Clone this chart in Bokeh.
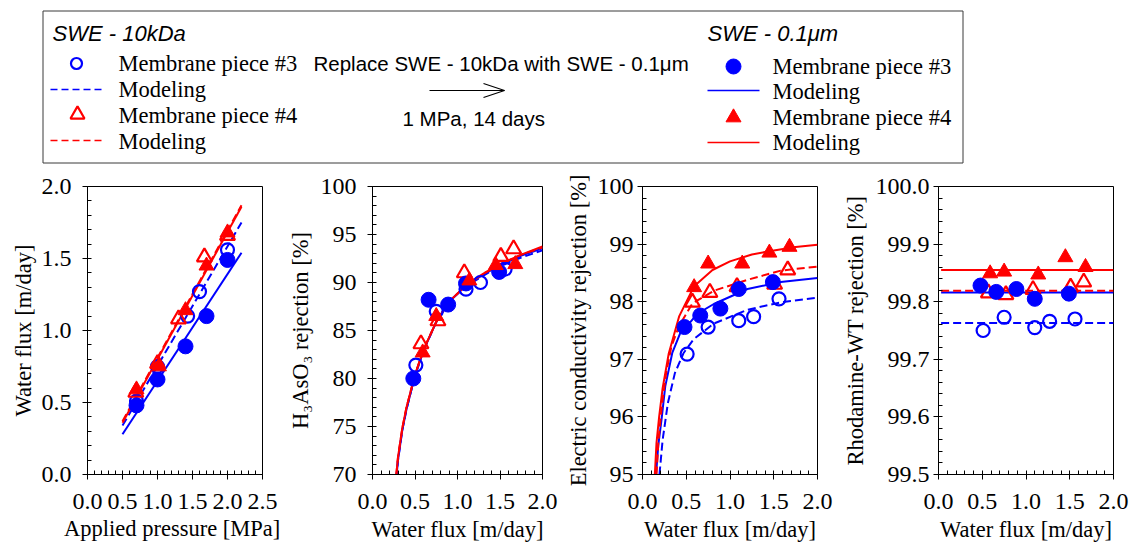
from bokeh.plotting import figure
from bokeh.layouts import column, row
from bokeh.models import Range1d, FixedTicker, NumeralTickFormatter, Title
from bokeh.embed import file_html
from bokeh.resources import INLINE
from bokeh.core.properties import value

# ---------------- data ----------------
# oc = SWE-10kDa piece #3 (open circle), fc = SWE-0.1um piece #3 (filled circle)
# ot = SWE-10kDa piece #4 (open triangle), ft = SWE-0.1um piece #4 (filled triangle)
P_oc = [0.70, 1.00, 1.43, 1.60, 2.00]
P_fc = [0.70, 1.00, 1.40, 1.70, 2.00]
P_ot = [0.69, 1.00, 1.30, 1.67, 2.00]
P_ft = [0.70, 1.02, 1.40, 1.70, 2.00]

J_oc = [0.51, 0.75, 1.10, 1.27, 1.56]
J_fc = [0.48, 0.66, 0.89, 1.10, 1.49]
J_ot = [0.57, 0.77, 1.08, 1.51, 1.66]
J_ft = [0.59, 0.75, 1.14, 1.45, 1.68]

# flux model lines (panel 1)
P_mod = [0.5, 2.2]
Jm_oc = [0.34, 1.75]
Jm_fc = [0.28, 1.54]
Jm_ot = [0.37, 1.87]
Jm_ft = [0.36, 1.86]

# H3AsO3 rejection (panel 2)
As_oc = [81.4, 87.0, 89.3, 90.0, 91.4]
As_fc = [80.0, 88.2, 87.7, 89.9, 91.1]
As_ot = [83.6, 86.0, 91.0, 92.7, 93.5]
As_ft = [82.7, 86.5, 90.2, 91.8, 91.9]
Jm_as = [0.28, 0.30, 0.35, 0.40, 0.50, 0.60, 0.75, 0.90, 1.10, 1.30, 1.50, 1.75, 2.00]
Asm_ft = [70.0, 71.8, 74.8, 77.0, 80.4, 83.0, 85.9, 88.0, 89.7, 90.9, 91.9, 92.9, 93.75]
Asm_ot = [70.0, 71.8, 74.8, 77.0, 80.4, 83.0, 85.9, 88.0, 89.7, 90.9, 91.9, 92.9, 93.65]
Asm_fc = [69.6, 71.5, 74.6, 76.8, 80.3, 82.9, 85.9, 88.0, 89.7, 90.8, 91.8, 92.8, 93.55]
Asm_oc = [69.6, 71.5, 74.6, 76.8, 80.3, 82.9, 85.9, 88.0, 89.6, 90.7, 91.7, 92.6, 93.35]

# Electric conductivity rejection (panel 3)
EC_oc = [97.09, 97.56, 97.67, 97.74, 98.05]
EC_fc = [97.56, 97.76, 97.88, 98.22, 98.34]
EC_ot = [97.99, 98.16, 98.26, 98.30, 98.55]
EC_ft = [98.25, 98.66, 98.66, 98.85, 98.95]
Jm_ec_ft = [0.141, 0.16, 0.19, 0.23, 0.30, 0.42, 0.59, 0.80, 1.00, 1.25, 1.50, 1.75, 2.00]
ECm_ft = [95.0, 95.55, 96.0, 96.5, 97.1, 97.75, 98.27, 98.55, 98.70, 98.82, 98.89, 98.95, 98.99]
Jm_ec_ot = [0.16, 0.183, 0.22, 0.27, 0.33, 0.415, 0.57, 0.815, 1.20, 1.58, 2.00]
ECm_ot = [95.0, 95.6, 96.18, 96.76, 97.22, 97.57, 97.97, 98.19, 98.38, 98.54, 98.61]
Jm_ec_fc = [0.155, 0.18, 0.217, 0.26, 0.34, 0.43, 0.49, 0.625, 0.815, 1.20, 1.58, 2.00]
ECm_fc = [95.0, 95.5, 95.95, 96.53, 97.11, 97.45, 97.54, 97.79, 97.96, 98.22, 98.34, 98.41]
Jm_ec_oc = [0.194, 0.23, 0.29, 0.37, 0.47, 0.585, 0.815, 1.20, 1.58, 2.00]
ECm_oc = [95.0, 95.6, 96.24, 96.76, 97.11, 97.35, 97.62, 97.86, 97.99, 98.07]

# Rhodamine-WT rejection (panel 4)
Rh_oc = [99.750, 99.773, 99.755, 99.766, 99.770]
Rh_fc = [99.828, 99.817, 99.822, 99.805, 99.814]
Rh_ot = [99.815, 99.812, 99.821, 99.825, 99.834]
Rh_ft = [99.849, 99.852, 99.847, 99.877, 99.860]
Jm_rh = [0.03, 2.0]
Rhm_oc = [99.763, 99.763]
Rhm_fc = [99.816, 99.816]
Rhm_ot = [99.819, 99.819]
Rhm_ft = [99.855, 99.855]

# texts
leg_titles = ["SWE - 10kDa", "SWE - 0.1\u03bcm"]
leg_labels = ["Membrane piece #3", "Modeling", "Membrane piece #4", "Modeling"]
note_lines = ["Replace SWE - 10kDa with SWE - 0.1\u03bcm", "1 MPa, 14 days"]
x_titles = ["Applied pressure  [MPa]", "Water flux [m/day]", "Water flux [m/day]", "Water flux [m/day]"]
y_titles = ["Water flux [m/day]", "H\u2083AsO\u2083 rejection [%]",
            "Electric conductivity rejection [%]", "Rhodamine-WT rejection [%]"]

# ---------------- style ----------------
SERIF = "'Liberation Serif', Tinos, 'Times New Roman', 'DejaVu Serif', serif"
SANS = "'Liberation Sans', Arimo, Arial, sans-serif"
BLUE = "#0000FF"
RED = "#FF0000"
FS = "24px"
FS_T = "22.5px"
LW = 2
DASH = "8 4"

TOTAL_W = 1129
LEG_H = 172
SUB_H = 383
TOP = 14


def frange(a, b, step):
    n = int(round((b - a) / step))
    return [round(a + i * step, 6) for i in range(n + 1)]


def panel(width, left, right, xr, yr, xmaj, xmin, ymaj, ymin, xfmt, yfmt,
          xtitle, ytitle, ylab_standoff, ytitle_standoff, xtitle_standoff):
    p = figure(width=width, height=SUB_H, x_range=Range1d(*xr), y_range=Range1d(*yr),
               output_backend="svg", toolbar_location=None,
               min_border_left=left, min_border_right=right,
               min_border_top=TOP, min_border_bottom=SUB_H - TOP - 288,
               y_axis_label=ytitle)
    p.xgrid.visible = False
    p.ygrid.visible = False
    p.outline_line_color = "black"
    p.outline_line_width = 1
    p.outline_line_alpha = 1.0
    p.background_fill_color = "white"
    p.border_fill_color = "white"
    for ax in (p.xaxis[0], p.yaxis[0]):
        ax.major_label_text_font = SERIF
        ax.major_label_text_font_size = FS
        ax.major_label_text_color = "black"
        ax.axis_label_text_font = SERIF
        ax.axis_label_text_font_size = FS_T
        ax.axis_label_text_font_style = "normal"
        ax.axis_label_text_color = "black"
        ax.major_tick_in = 0
        ax.major_tick_out = 5
        ax.minor_tick_in = 4
        ax.minor_tick_out = 0
        ax.axis_line_color = "black"
        ax.major_tick_line_color = "black"
        ax.minor_tick_line_color = "black"
    p.xaxis[0].ticker = FixedTicker(ticks=xmaj, minor_ticks=xmin)
    p.yaxis[0].ticker = FixedTicker(ticks=ymaj, minor_ticks=ymin)
    p.xaxis[0].formatter = NumeralTickFormatter(format=xfmt)
    p.yaxis[0].formatter = NumeralTickFormatter(format=yfmt)
    p.xaxis[0].major_label_standoff = 14
    p.yaxis[0].major_label_standoff = int(ylab_standoff)
    p.yaxis[0].axis_label_standoff = int(ytitle_standoff)
    # x-axis title as a below-panel title (keeps the bottom border compact)
    p.add_layout(Title(text=xtitle, align="center", text_font=SERIF, text_font_size=FS_T,
                       text_font_style="normal", text_color="black",
                       standoff=int(xtitle_standoff)), "below")
    return p


def draw_points(p, oc, fc, ot, ft):
    p.scatter(oc[0], oc[1], marker="circle", size=13, fill_color=None,
              line_color=BLUE, line_width=2.2)
    p.scatter(ot[0], ot[1], marker="triangle", size=15, fill_color=None,
              line_color=RED, line_width=2.2)
    p.scatter(fc[0], fc[1], marker="circle", size=15, fill_color=BLUE, line_color=BLUE, line_width=1)
    p.scatter(ft[0], ft[1], marker="triangle", size=15, fill_color=RED, line_color=RED, line_width=1)


def draw_models(p, models):
    for mx, my, col, dash in models:
        p.line(mx, my, line_color=col, line_width=LW, line_dash=dash)


# ---------------- panel 1 ----------------
f1 = panel(284, 87, 22, (0, 2.5), (0, 2.0),
           frange(0, 2.5, 0.5), frange(0, 2.5, 0.1), frange(0, 2, 0.5), frange(0, 2, 0.1),
           "0.0", "0.0", x_titles[0], y_titles[0], 11, 3, 4)
draw_models(f1, [(P_mod, Jm_oc, BLUE, DASH), (P_mod, Jm_fc, BLUE, "solid"),
                 (P_mod, Jm_ot, RED, DASH), (P_mod, Jm_ft, RED, "solid")])
draw_points(f1, (P_oc, J_oc), (P_fc, J_fc), (P_ot, J_ot), (P_ft, J_ft))

# ---------------- panel 2 ----------------
f2 = panel(276, 83, 18, (0, 2.0), (70, 100),
           frange(0, 2, 0.5), frange(0, 2, 0.1), frange(70, 100, 5), frange(70, 100, 1),
           "0.0", "0", x_titles[1], y_titles[1], 11, 5, 6)
draw_models(f2, [(Jm_as, Asm_oc, BLUE, DASH), (Jm_as, Asm_fc, BLUE, "solid"),
                 (Jm_as, Asm_ot, RED, DASH), (Jm_as, Asm_ft, RED, "solid")])
draw_points(f2, (J_oc, As_oc), (J_fc, As_fc), (J_ot, As_ot), (J_ft, As_ft))

# ---------------- panel 3 ----------------
f3 = panel(274, 82, 17, (0, 2.0), (95, 100),
           frange(0, 2, 0.5), frange(0, 2, 0.1), frange(95, 100, 1), frange(95, 100, 0.2),
           "0.0", "0", x_titles[2], y_titles[2], 4, 4, 6)
draw_models(f3, [(Jm_ec_oc, ECm_oc, BLUE, DASH), (Jm_ec_fc, ECm_fc, BLUE, "solid"),
                 (Jm_ec_ot, ECm_ot, RED, DASH), (Jm_ec_ft, ECm_ft, RED, "solid")])
draw_points(f3, (J_oc, EC_oc), (J_fc, EC_fc), (J_ot, EC_ot), (J_ft, EC_ft))

# ---------------- panel 4 ----------------
f4 = panel(295, 104, 16, (0, 2.0), (99.5, 100.0),
           frange(0, 2, 0.5), frange(0, 2, 0.1), frange(99.5, 100, 0.1), frange(99.5, 100, 0.02),
           "0.0", "0.0", x_titles[3], y_titles[3], 4, 5, 7)
draw_models(f4, [(Jm_rh, Rhm_oc, BLUE, DASH), (Jm_rh, Rhm_fc, BLUE, "solid"),
                 (Jm_rh, Rhm_ot, RED, DASH), (Jm_rh, Rhm_ft, RED, "solid")])
draw_points(f4, (J_oc, Rh_oc), (J_fc, Rh_fc), (J_ot, Rh_ot), (J_ft, Rh_ft))

# ---------------- legend block (pixel layout space) ----------------
leg = figure(width=TOTAL_W, height=LEG_H, x_range=Range1d(0, TOTAL_W), y_range=Range1d(LEG_H, 0),
             output_backend="svg", toolbar_location=None, min_border=0,
             x_axis_type=None, y_axis_type=None)
leg.grid.visible = False
leg.outline_line_color = None
leg.background_fill_color = "white"
leg.border_fill_color = "white"

leg.quad(left=[42.5], right=[962.5], top=[10.5], bottom=[162.5], fill_color=None,
         line_color="#3a3a3a", line_width=1)

rows_l = [63, 89, 115, 141]
rows_r = [66, 91, 117, 142]
leg.text(x=[52, 707], y=[33, 33], text=leg_titles, text_font=value(SANS),
         text_font_style="italic", text_font_size="22px", text_baseline="middle",
         text_color="black")
leg.text(x=[118] * 4 + [772] * 4, y=rows_l + rows_r, text=leg_labels + leg_labels,
         text_font=value(SERIF), text_font_size="22.5px", text_baseline="middle",
         text_color="black")
leg.scatter([76], [rows_l[0]], marker="circle", size=11, fill_color=None, line_color=BLUE, line_width=2.2)
leg.scatter([77], [rows_l[2] - 1], marker="triangle", size=14, fill_color=None, line_color=RED, line_width=2.2)
leg.scatter([733], [rows_r[0]], marker="circle", size=15, fill_color=BLUE, line_color=BLUE)
leg.scatter([733], [rows_r[2]], marker="triangle", size=15, fill_color=RED, line_color=RED)
leg.line([50, 104], [rows_l[1], rows_l[1]], line_color=BLUE, line_width=1.5, line_dash="7 4")
leg.line([50, 104], [rows_l[3] - 1, rows_l[3] - 1], line_color=RED, line_width=1.5, line_dash="7 4")
leg.line([707, 759], [rows_r[1] - 1, rows_r[1] - 1], line_color=BLUE, line_width=1.5)
leg.line([707, 759], [rows_r[3], rows_r[3]], line_color=RED, line_width=1.5)
leg.text(x=[313, 402], y=[63, 118], text=note_lines, text_font=value(SANS),
         text_font_size="20.5px", text_baseline="middle", text_color="black")
leg.line([429, 504], [90, 90], line_color="black", line_width=1.2)
leg.line([483, 504, 483], [83, 90, 97], line_color="black", line_width=1.2)

layout = column(leg, row(f1, f2, f3, f4))

html = file_html(layout, INLINE, "chart")
with open("out.html", "w") as fh:
    fh.write(html)
